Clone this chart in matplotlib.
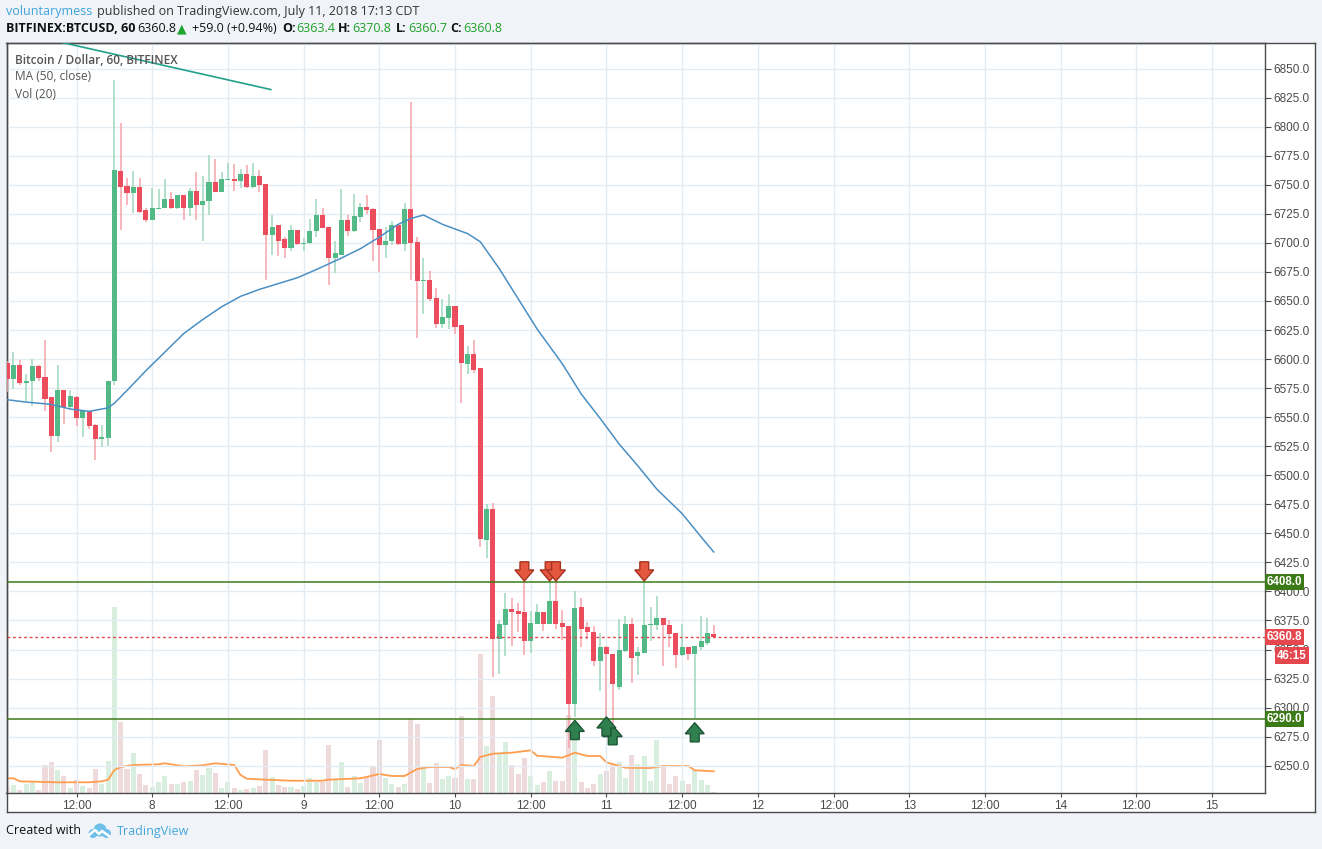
# grafico de velas BTCUSD 1h (BITFINEX) estilo TradingView
import matplotlib
matplotlib.use("Agg")
import matplotlib.pyplot as plt
from matplotlib.patches import Polygon, Circle

# horas contadas desde el 7 de julio 00:00
horas = list(range(1, 114))

apertura = [6597, 6583, 6595, 6579, 6581, 6594, 6585, 6567, 6534, 6573,
            6559, 6567, 6549, 6555, 6543, 6531, 6532, 6581, 6762, 6749,
            6743, 6748, 6728, 6720, 6729, 6730, 6738, 6730, 6741, 6730,
            6745, 6733, 6736, 6752, 6744, 6754.5, 6755, 6753, 6759, 6748,
            6758, 6751, 6707, 6715, 6703, 6696, 6711, 6699, 6700, 6710,
            6724, 6714, 6687, 6690, 6720, 6710, 6722, 6731, 6729, 6712,
            6698, 6702, 6715, 6699, 6729, 6701, 6667.5, 6668, 6653, 6630,
            6635, 6646, 6629, 6596, 6604, 6592, 6444, 6471, 6359, 6371,
            6385, 6383, 6382, 6357, 6372, 6382, 6372, 6392, 6373, 6370,
            6303, 6387, 6369, 6365, 6340, 6352, 6346, 6318, 6349, 6372,
            6344, 6347, 6371, 6371, 6377, 6371, 6364, 6345, 6352, 6346,
            6352, 6356, 6363.4]
maximo = [6598, 6606, 6599, 6587, 6600, 6595, 6616, 6567, 6595, 6573,
          6573, 6568, 6555, 6555, 6544, 6543, 6581, 6840, 6803, 6756,
          6762, 6756, 6730, 6747, 6746, 6755, 6744, 6741, 6741, 6747,
          6761, 6758, 6776, 6772, 6761, 6769, 6768, 6764, 6767, 6769,
          6763, 6751, 6724, 6715, 6705, 6715, 6711, 6704, 6721, 6738,
          6730, 6714, 6702, 6746, 6724, 6742, 6734, 6741, 6730, 6712,
          6714, 6719, 6715, 6734, 6821, 6705, 6687, 6676, 6661, 6652,
          6656, 6646, 6629, 6611, 6616, 6592, 6475, 6476, 6375, 6399,
          6394, 6390, 6409, 6383, 6389, 6382, 6409, 6409, 6384, 6370,
          6400, 6394, 6374, 6370, 6364, 6353, 6346, 6376, 6379, 6377,
          6352, 6409, 6387, 6396, 6377, 6375, 6364, 6372, 6352, 6353,
          6379, 6377, 6370.8]
minimo = [6572, 6574, 6578, 6564, 6560, 6581, 6555, 6520, 6529, 6544,
          6557, 6542, 6533, 6540, 6513, 6524, 6525, 6578, 6711, 6733,
          6726, 6726, 6718, 6720, 6729, 6730, 6729, 6729, 6720, 6723,
          6720, 6702, 6724, 6744, 6744, 6754, 6745, 6747, 6747, 6747,
          6744, 6668, 6690, 6689, 6687, 6693, 6698, 6693, 6699, 6705,
          6713, 6664, 6674, 6690, 6706, 6709, 6718, 6725, 6684, 6675,
          6687, 6698, 6698, 6693, 6668, 6618, 6639, 6650, 6627, 6627,
          6626, 6622, 6562, 6587, 6588, 6438, 6429, 6326, 6329, 6344,
          6353, 6365, 6345, 6347, 6372, 6366, 6372, 6368, 6358, 6265,
          6292, 6352, 6359, 6336, 6314, 6291, 6286, 6315, 6348, 6321,
          6328, 6347, 6357, 6367, 6336, 6352, 6334, 6344, 6341, 6291,
          6350, 6354, 6360.7]
cierre = [6583, 6595, 6579, 6581, 6594, 6584, 6566, 6534, 6573, 6559,
          6568, 6549, 6555, 6542, 6531, 6533, 6581, 6763, 6748, 6743,
          6748, 6727, 6720, 6730, 6730, 6738, 6730, 6741, 6730, 6745,
          6733, 6736, 6752, 6744, 6755, 6755.3, 6753, 6759, 6748, 6758,
          6750, 6707, 6714, 6702, 6696, 6711, 6699, 6700, 6710, 6724,
          6713, 6687, 6691, 6720, 6710, 6723, 6731, 6728, 6711, 6698,
          6702, 6715, 6699, 6729, 6700, 6667, 6668.4, 6652, 6630, 6636,
          6646, 6628, 6597, 6604, 6591, 6445, 6471, 6359, 6372, 6385,
          6382, 6381, 6357, 6373, 6382, 6372, 6392, 6372, 6369, 6303,
          6386, 6368, 6365, 6340, 6352, 6346, 6320, 6350, 6372, 6343,
          6348, 6371, 6372, 6377, 6371, 6363, 6345, 6352, 6346, 6353,
          6357, 6364, 6360.8]
volumen = [6, 8, 3, 9, 11, 3, 28, 31, 23, 17,
           5, 13, 7, 5, 24, 9, 32, 186, 71, 24,
           40, 19, 8, 6, 11, 17, 9, 9, 11, 12,
           23, 18, 25, 20, 5, 11, 5, 3, 4, 5,
           7, 43, 16, 8, 6, 6, 4, 7, 15, 11,
           11, 48, 13, 31, 6, 17, 10, 16, 27, 53,
           15, 9, 6, 9, 74, 69, 27, 10, 30, 14,
           17, 15, 77, 14, 14, 139, 47, 97, 40, 51,
           28, 19, 35, 17, 8, 11, 22, 12, 12, 78,
           55, 11, 5, 9, 19, 22, 29, 31, 15, 38,
           29, 37, 12, 53, 28, 9, 17, 12, 9, 23,
           13, 8, 1]

# media movil 50
ma_horas = [1, 4, 8, 11, 14, 17, 18, 20, 23, 26, 29, 32, 35, 38, 41, 44, 47, 50, 54, 57,
            60, 63, 65, 67, 70, 74, 76, 79, 82, 85, 89, 92, 95, 98, 101, 104, 108, 111, 113]
ma_valores = [6565, 6563, 6561, 6557, 6555, 6558, 6562, 6573, 6590, 6606, 6622, 6634, 6645,
              6654, 6660, 6665, 6670, 6677, 6687, 6695, 6705, 6716, 6721, 6724, 6716, 6708,
              6701, 6678, 6652, 6626, 6596, 6570, 6549, 6527, 6508, 6488, 6467, 6447, 6434]

# media del volumen (20)
vma_horas = [1, 2, 3, 9, 14, 16, 17, 18, 19, 21, 25, 26, 29, 32, 34, 37, 38, 39, 42, 46,
             51, 52, 57, 60, 62, 64, 66, 68, 71, 72, 73, 75, 76, 78, 81, 84, 85, 89, 91, 93,
             95, 96, 99, 103, 105, 109, 110, 113]
vma_valores = [14.7, 14.7, 11.7, 10.7, 10.7, 11.7, 13.3, 23, 26, 28, 28.7, 29.7, 26.7, 27.7,
               29.7, 28, 18, 14.3, 13.3, 12.3, 12.3, 13.3, 14.7, 19, 17, 17, 24, 26, 26, 24,
               28, 27, 36, 39.3, 40.3, 42.7, 37.3, 35.3, 40.3, 37, 37, 30.7, 25.3, 25, 27, 27,
               22.7, 21.7]

# linea de tendencia y niveles
tendencia_h = [8.5, 42.8]
tendencia_p = [6874, 6832]
resistencia = 6408.0
soporte = 6290.0
precio_actual = 6360.8
cuenta_atras = '46:15'

# senales de venta / compra
venta_h = [83, 87, 88, 102]
venta_p = [6409, 6409, 6409, 6409]
compra_h = [91, 96, 97, 110]
compra_p = [6289, 6292, 6284.5, 6287]

ticks_h = list(range(12, 193, 12))
ticks_txt = ['12:00', '8', '12:00', '9', '12:00', '10', '12:00', '11', '12:00', '12',
             '12:00', '13', '12:00', '14', '12:00', '15']

verde = '#53b987'
rojo = '#eb4d5c'
W, H = 1322, 849

fig = plt.figure(figsize=(W / 100, H / 100), dpi=100)
fig.patch.set_facecolor('#f0f3f7')

def fx(px):
    return px / W

def fy(py):
    return 1 - py / H

# marco blanco exterior
marco = fig.add_axes([fx(6.5), fy(812), fx(1315 - 6.5), (812 - 42.5) / H])
marco.set_facecolor('white')
marco.set_xticks([])
marco.set_yticks([])
for s in marco.spines.values():
    s.set_color('#4a4a4a')
    s.set_linewidth(1)

ax = fig.add_axes([fx(6.5), fy(793), fx(1265 - 6.5), (793 - 42.5) / H])
axv = ax.twinx()
ax.set_zorder(axv.get_zorder() + 1)
ax.patch.set_visible(False)

# volumen
colores_vol = ['#d8eedf' if c >= o else '#eed9db' for o, c in zip(apertura, cierre)]
axv.bar(horas, volumen, width=0.8, color=colores_vol, zorder=1)
axv.plot(vma_horas, vma_valores, color='#ff9d4d', lw=1.3, zorder=2)
axv.set_ylim(0, 750.5)
axv.set_yticks([])
for s in axv.spines.values():
    s.set_visible(False)

# velas
for h, o, hi, lo, c in zip(horas, apertura, maximo, minimo, cierre):
    sube = c >= o
    ax.vlines(h, lo, hi, color='#9fd9bd' if sube else '#f5a3ab', lw=1.1, zorder=3)
    ax.bar(h, max(abs(c - o), 0.9), bottom=min(o, c), width=0.8,
           color=verde if sube else rojo, zorder=4)

ax.plot(ma_horas, ma_valores, color='#4a8fc3', lw=1.1, zorder=5)
ax.plot(tendencia_h, tendencia_p, color='#22a08c', lw=1.2, zorder=5)

ax.axhline(resistencia, color='#3b7a16', lw=1.1, zorder=6)
ax.axhline(soporte, color='#3b7a16', lw=1.1, zorder=6)
ax.axhline(precio_actual, color='#e5474f', lw=1, ls=(0, (2, 2)), zorder=6)

# flechas de senales
def flecha(h, punta, abajo):
    a, b, hy, ty = 1.5, 0.7, 9.5, 16.5
    s = 1 if abajo else -1
    return [(h, punta), (h - a, punta + s * hy), (h - b, punta + s * hy),
            (h - b, punta + s * ty), (h + b, punta + s * ty), (h + b, punta + s * hy),
            (h + a, punta + s * hy)]

for i, (h, p) in enumerate(zip(venta_h, venta_p)):
    ax.add_patch(Polygon(flecha(h, p, True), closed=True, facecolor='#e3583e',
                         edgecolor='#a8321f', lw=1, zorder=8 + i))
for i, (h, p) in enumerate(zip(compra_h, compra_p)):
    ax.add_patch(Polygon(flecha(h, p, False), closed=True, facecolor='#2f7f4f',
                         edgecolor='#1d5634', lw=1, zorder=20 - i))

ax.set_xlim(0.9, 200.4)
ax.set_ylim(6226.5, 6872.5)

ax.set_yticks(range(6250, 6851, 25))
ax.set_yticklabels(['%.1f' % v for v in range(6250, 6851, 25)])
ax.yaxis.tick_right()
ax.set_xticks(ticks_h)
ax.set_xticklabels(ticks_txt)
ax.tick_params(axis='y', length=4, width=0.8, color='#4a4a4a', labelsize=8.5,
               labelcolor='#4a4a4a', pad=2)
ax.tick_params(axis='x', length=3, width=0.8, color='#4a4a4a', labelsize=8.5,
               labelcolor='#4a4a4a', pad=2)
for t in ax.get_xticklabels() + ax.get_yticklabels():
    t.set_family('Liberation Sans')
ax.grid(True, color='#e3ecf3', lw=1, zorder=0)
ax.set_axisbelow(True)
for s in ax.spines.values():
    s.set_color('#4a4a4a')
    s.set_linewidth(1)

# etiquetas de precio en el eje derecho
etq = dict(color='white', fontsize=8.3, fontweight='bold', va='center', ha='left',
           family='Liberation Sans', transform=ax.get_yaxis_transform(), zorder=30, clip_on=False)
caja = 'square,pad=0.18'
ax.text(1.0015, resistencia, '%.1f' % resistencia,
        bbox=dict(boxstyle=caja, fc='#3b7a16', ec='none'), **etq)
ax.text(1.0015, soporte, '%.1f' % soporte,
        bbox=dict(boxstyle=caja, fc='#3b7a16', ec='none'), **etq)
ax.text(1.0015, precio_actual, '%.1f' % precio_actual,
        bbox=dict(boxstyle=caja, fc='#e5474f', ec='none'), **etq)
ax.text(1.0095, precio_actual - 16, cuenta_atras,
        bbox=dict(boxstyle=caja, fc='#e5474f', ec='none'), **etq)

# leyenda interna
ley = dict(fontsize=8.6, color='#555555', family='Open Sans', va='center', ha='left')
fig.text(fx(15), fy(61), 'Bitcoin / Dollar, 60, BITFINEX', fontweight='semibold', **ley)
fig.text(fx(15), fy(77), 'MA (50, close)', **ley)
fig.text(fx(15), fy(94), 'Vol (20)', **ley)

# cabecera
cab = dict(fontsize=9, family=['Open Sans', 'DejaVu Sans'], va='center', ha='left')
fig.text(fx(6), fy(11), 'voluntarymess', color='#3fa3dc', **cab)
fig.text(fx(97), fy(11), 'published on TradingView.com, July 11, 2018 17:13 CDT',
         color='#333333', **cab)
fig.text(fx(6), fy(29), 'BITFINEX:BTCUSD, 60', color='#111111', fontweight='bold', **cab)
fig.text(fx(137), fy(29), '6360.8', color='#111111', **cab)
fig.text(fx(177), fy(29), '\u25b2', color='#1ea52d', **cab)
fig.text(fx(192), fy(29), '+59.0 (+0.94%)', color='#111111', **cab)
for x0, lab, x1, val in [(282, 'O:', 296, '6363.4'), (338, 'H:', 352, '6370.8'),
                         (396, 'L:', 408, '6360.7'), (450, 'C:', 463, '6360.8')]:
    fig.text(fx(x0), fy(29), lab, color='#111111', fontweight='bold', **cab)
    fig.text(fx(x1), fy(29), val, color='#1fa02a', **cab)

# pie con logo
fig.text(fx(6), fy(831), 'Created with', color='#111111', **cab)
fig.text(fx(117), fy(831), 'TradingView', color='#45a6dc', **cab)
logo = fig.add_axes([fx(87), fy(839), fx(25), 17 / H])
logo.set_xlim(0, 25)
logo.set_ylim(0, 17)
logo.set_aspect('equal')
logo.axis('off')
for cx, cy, r in [(6, 5.5, 4.5), (13, 9, 6.5), (19.5, 5.5, 4.5)]:
    logo.add_patch(Circle((cx, cy), r, color='#6ec0ea', lw=0))
logo.plot([2, 8, 12, 15, 22], [4, 9, 5, 8, 3], color='white', lw=1.8)

fig.savefig('out.png', dpi=100, facecolor=fig.get_facecolor())
